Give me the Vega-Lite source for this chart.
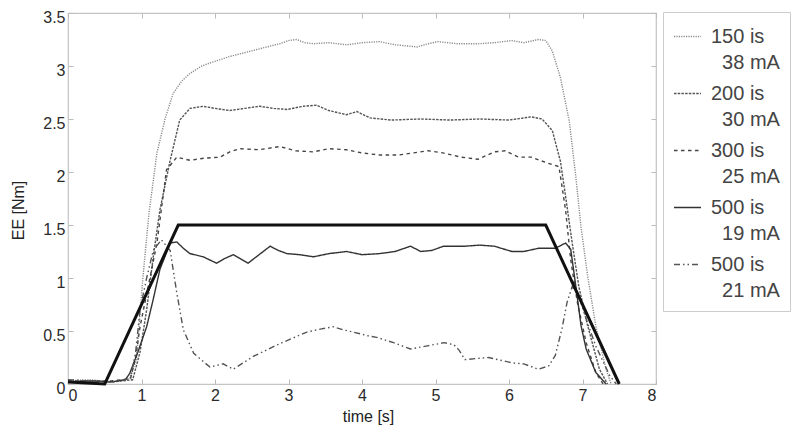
{
  "$schema": "https://vega.github.io/schema/vega-lite/v6.json",
  "width": 588,
  "height": 371,
  "autosize": "none",
  "padding": {"left": 68, "top": 13, "right": 144, "bottom": 52},
  "background": "white",
  "config": {
    "font": "Liberation Sans",
    "view": {"stroke": "#c4c4c4", "strokeWidth": 1.2},
    "axis": {
      "labelFont": "Liberation Sans", "labelFontSize": 16, "labelColor": "#2a2a2a",
      "titleFont": "Liberation Sans", "titleFontSize": 16, "titleFontWeight": "normal", "titleColor": "#222",
      "domain": false, "grid": false, "tickColor": "#bbb", "tickSize": -5
    },
    "legend": {
      "labelFont": "Liberation Sans"
    }
  },
  "datasets": {
    "ref": [
      {"t": 0, "y": 0.02}, {"t": 0.5, "y": 0}, {"t": 1.5, "y": 1.5}, {"t": 6.5, "y": 1.5}, {"t": 7.5, "y": 0}
    ],
    "curves": [
      {"s":"150 is 38 mA","t":0,"y":0.03},{"s":"150 is 38 mA","t":0.3,"y":0.04},{"s":"150 is 38 mA","t":0.6,"y":0.02},{"s":"150 is 38 mA","t":0.84,"y":0.05},{"s":"150 is 38 mA","t":0.93,"y":0.23},{"s":"150 is 38 mA","t":1.02,"y":1.01},{"s":"150 is 38 mA","t":1.1,"y":1.6},{"s":"150 is 38 mA","t":1.21,"y":2.18},{"s":"150 is 38 mA","t":1.32,"y":2.5},{"s":"150 is 38 mA","t":1.43,"y":2.74},{"s":"150 is 38 mA","t":1.55,"y":2.86},{"s":"150 is 38 mA","t":1.66,"y":2.93},{"s":"150 is 38 mA","t":1.82,"y":3.0},{"s":"150 is 38 mA","t":1.98,"y":3.04},{"s":"150 is 38 mA","t":2.2,"y":3.09},{"s":"150 is 38 mA","t":2.43,"y":3.13},{"s":"150 is 38 mA","t":2.65,"y":3.17},{"s":"150 is 38 mA","t":2.88,"y":3.21},{"s":"150 is 38 mA","t":3.0,"y":3.24},{"s":"150 is 38 mA","t":3.11,"y":3.25},{"s":"150 is 38 mA","t":3.22,"y":3.22},{"s":"150 is 38 mA","t":3.34,"y":3.21},{"s":"150 is 38 mA","t":3.55,"y":3.22},{"s":"150 is 38 mA","t":3.79,"y":3.2},{"s":"150 is 38 mA","t":4.0,"y":3.22},{"s":"150 is 38 mA","t":4.24,"y":3.23},{"s":"150 is 38 mA","t":4.45,"y":3.2},{"s":"150 is 38 mA","t":4.6,"y":3.19},{"s":"150 is 38 mA","t":4.75,"y":3.18},{"s":"150 is 38 mA","t":4.9,"y":3.21},{"s":"150 is 38 mA","t":5.03,"y":3.23},{"s":"150 is 38 mA","t":5.3,"y":3.21},{"s":"150 is 38 mA","t":5.58,"y":3.21},{"s":"150 is 38 mA","t":5.8,"y":3.22},{"s":"150 is 38 mA","t":6.04,"y":3.24},{"s":"150 is 38 mA","t":6.2,"y":3.22},{"s":"150 is 38 mA","t":6.4,"y":3.25},{"s":"150 is 38 mA","t":6.5,"y":3.24},{"s":"150 is 38 mA","t":6.59,"y":3.14},{"s":"150 is 38 mA","t":6.7,"y":2.89},{"s":"150 is 38 mA","t":6.82,"y":2.48},{"s":"150 is 38 mA","t":6.91,"y":1.95},{"s":"150 is 38 mA","t":6.98,"y":1.48},{"s":"150 is 38 mA","t":7.07,"y":1.02},{"s":"150 is 38 mA","t":7.18,"y":0.55},{"s":"150 is 38 mA","t":7.32,"y":0.14},{"s":"150 is 38 mA","t":7.39,"y":0},
      {"s":"200 is 30 mA","t":0,"y":0.02},{"s":"200 is 30 mA","t":0.3,"y":0.03},{"s":"200 is 30 mA","t":0.6,"y":0.02},{"s":"200 is 30 mA","t":0.88,"y":0.04},{"s":"200 is 30 mA","t":0.98,"y":0.3},{"s":"200 is 30 mA","t":1.07,"y":0.7},{"s":"200 is 30 mA","t":1.16,"y":1.2},{"s":"200 is 30 mA","t":1.25,"y":1.64},{"s":"200 is 30 mA","t":1.39,"y":2.11},{"s":"200 is 30 mA","t":1.52,"y":2.49},{"s":"200 is 30 mA","t":1.66,"y":2.6},{"s":"200 is 30 mA","t":1.84,"y":2.62},{"s":"200 is 30 mA","t":2.0,"y":2.6},{"s":"200 is 30 mA","t":2.2,"y":2.58},{"s":"200 is 30 mA","t":2.4,"y":2.6},{"s":"200 is 30 mA","t":2.61,"y":2.62},{"s":"200 is 30 mA","t":2.8,"y":2.6},{"s":"200 is 30 mA","t":2.98,"y":2.59},{"s":"200 is 30 mA","t":3.2,"y":2.62},{"s":"200 is 30 mA","t":3.38,"y":2.63},{"s":"200 is 30 mA","t":3.55,"y":2.58},{"s":"200 is 30 mA","t":3.79,"y":2.54},{"s":"200 is 30 mA","t":3.93,"y":2.57},{"s":"200 is 30 mA","t":4.11,"y":2.51},{"s":"200 is 30 mA","t":4.4,"y":2.49},{"s":"200 is 30 mA","t":4.8,"y":2.5},{"s":"200 is 30 mA","t":5.2,"y":2.49},{"s":"200 is 30 mA","t":5.6,"y":2.5},{"s":"200 is 30 mA","t":6.0,"y":2.49},{"s":"200 is 30 mA","t":6.3,"y":2.52},{"s":"200 is 30 mA","t":6.45,"y":2.5},{"s":"200 is 30 mA","t":6.59,"y":2.39},{"s":"200 is 30 mA","t":6.7,"y":2.1},{"s":"200 is 30 mA","t":6.77,"y":1.77},{"s":"200 is 30 mA","t":6.86,"y":1.33},{"s":"200 is 30 mA","t":6.95,"y":0.92},{"s":"200 is 30 mA","t":7.07,"y":0.55},{"s":"200 is 30 mA","t":7.23,"y":0.14},{"s":"200 is 30 mA","t":7.34,"y":0},
      {"s":"300 is 25 mA","t":0,"y":0.03},{"s":"300 is 25 mA","t":0.3,"y":0.02},{"s":"300 is 25 mA","t":0.6,"y":0.03},{"s":"300 is 25 mA","t":0.85,"y":0.05},{"s":"300 is 25 mA","t":0.92,"y":0.25},{"s":"300 is 25 mA","t":0.98,"y":0.54},{"s":"300 is 25 mA","t":1.1,"y":0.95},{"s":"300 is 25 mA","t":1.21,"y":1.33},{"s":"300 is 25 mA","t":1.34,"y":2.02},{"s":"300 is 25 mA","t":1.48,"y":2.14},{"s":"300 is 25 mA","t":1.66,"y":2.11},{"s":"300 is 25 mA","t":1.85,"y":2.13},{"s":"300 is 25 mA","t":2.07,"y":2.14},{"s":"300 is 25 mA","t":2.2,"y":2.19},{"s":"300 is 25 mA","t":2.34,"y":2.22},{"s":"300 is 25 mA","t":2.6,"y":2.21},{"s":"300 is 25 mA","t":2.88,"y":2.24},{"s":"300 is 25 mA","t":3.1,"y":2.2},{"s":"300 is 25 mA","t":3.34,"y":2.19},{"s":"300 is 25 mA","t":3.55,"y":2.22},{"s":"300 is 25 mA","t":3.79,"y":2.21},{"s":"300 is 25 mA","t":4.0,"y":2.18},{"s":"300 is 25 mA","t":4.24,"y":2.16},{"s":"300 is 25 mA","t":4.5,"y":2.16},{"s":"300 is 25 mA","t":4.9,"y":2.2},{"s":"300 is 25 mA","t":5.1,"y":2.18},{"s":"300 is 25 mA","t":5.35,"y":2.14},{"s":"300 is 25 mA","t":5.58,"y":2.12},{"s":"300 is 25 mA","t":5.8,"y":2.19},{"s":"300 is 25 mA","t":5.95,"y":2.2},{"s":"300 is 25 mA","t":6.13,"y":2.14},{"s":"300 is 25 mA","t":6.3,"y":2.14},{"s":"300 is 25 mA","t":6.5,"y":2.09},{"s":"300 is 25 mA","t":6.68,"y":2.05},{"s":"300 is 25 mA","t":6.77,"y":1.64},{"s":"300 is 25 mA","t":6.84,"y":1.17},{"s":"300 is 25 mA","t":6.93,"y":0.77},{"s":"300 is 25 mA","t":7.05,"y":0.39},{"s":"300 is 25 mA","t":7.18,"y":0.11},{"s":"300 is 25 mA","t":7.28,"y":0},
      {"s":"500 is 19 mA","t":0,"y":0.02},{"s":"500 is 19 mA","t":0.3,"y":0.03},{"s":"500 is 19 mA","t":0.6,"y":0.02},{"s":"500 is 19 mA","t":0.78,"y":0.04},{"s":"500 is 19 mA","t":0.84,"y":0.1},{"s":"500 is 19 mA","t":0.95,"y":0.3},{"s":"500 is 19 mA","t":1.07,"y":0.54},{"s":"500 is 19 mA","t":1.16,"y":0.8},{"s":"500 is 19 mA","t":1.25,"y":1.08},{"s":"500 is 19 mA","t":1.39,"y":1.33},{"s":"500 is 19 mA","t":1.48,"y":1.34},{"s":"500 is 19 mA","t":1.57,"y":1.28},{"s":"500 is 19 mA","t":1.66,"y":1.23},{"s":"500 is 19 mA","t":1.84,"y":1.2},{"s":"500 is 19 mA","t":2.02,"y":1.14},{"s":"500 is 19 mA","t":2.12,"y":1.18},{"s":"500 is 19 mA","t":2.25,"y":1.22},{"s":"500 is 19 mA","t":2.35,"y":1.18},{"s":"500 is 19 mA","t":2.45,"y":1.14},{"s":"500 is 19 mA","t":2.6,"y":1.22},{"s":"500 is 19 mA","t":2.75,"y":1.3},{"s":"500 is 19 mA","t":2.86,"y":1.26},{"s":"500 is 19 mA","t":2.98,"y":1.23},{"s":"500 is 19 mA","t":3.15,"y":1.22},{"s":"500 is 19 mA","t":3.34,"y":1.2},{"s":"500 is 19 mA","t":3.55,"y":1.23},{"s":"500 is 19 mA","t":3.79,"y":1.25},{"s":"500 is 19 mA","t":4.0,"y":1.22},{"s":"500 is 19 mA","t":4.24,"y":1.23},{"s":"500 is 19 mA","t":4.45,"y":1.25},{"s":"500 is 19 mA","t":4.66,"y":1.3},{"s":"500 is 19 mA","t":4.8,"y":1.25},{"s":"500 is 19 mA","t":4.95,"y":1.26},{"s":"500 is 19 mA","t":5.11,"y":1.3},{"s":"500 is 19 mA","t":5.4,"y":1.3},{"s":"500 is 19 mA","t":5.6,"y":1.31},{"s":"500 is 19 mA","t":5.8,"y":1.3},{"s":"500 is 19 mA","t":6.04,"y":1.25},{"s":"500 is 19 mA","t":6.2,"y":1.25},{"s":"500 is 19 mA","t":6.4,"y":1.28},{"s":"500 is 19 mA","t":6.63,"y":1.28},{"s":"500 is 19 mA","t":6.77,"y":1.33},{"s":"500 is 19 mA","t":6.84,"y":1.27},{"s":"500 is 19 mA","t":6.91,"y":0.92},{"s":"500 is 19 mA","t":6.98,"y":0.55},{"s":"500 is 19 mA","t":7.05,"y":0.33},{"s":"500 is 19 mA","t":7.18,"y":0.11},{"s":"500 is 19 mA","t":7.32,"y":0},
      {"s":"500 is 21 mA","t":0,"y":0.04},{"s":"500 is 21 mA","t":0.3,"y":0.03},{"s":"500 is 21 mA","t":0.6,"y":0.02},{"s":"500 is 21 mA","t":0.85,"y":0.05},{"s":"500 is 21 mA","t":0.92,"y":0.3},{"s":"500 is 21 mA","t":0.98,"y":0.7},{"s":"500 is 21 mA","t":1.07,"y":1.0},{"s":"500 is 21 mA","t":1.16,"y":1.26},{"s":"500 is 21 mA","t":1.27,"y":1.36},{"s":"500 is 21 mA","t":1.39,"y":1.26},{"s":"500 is 21 mA","t":1.48,"y":0.86},{"s":"500 is 21 mA","t":1.57,"y":0.51},{"s":"500 is 21 mA","t":1.71,"y":0.29},{"s":"500 is 21 mA","t":1.93,"y":0.16},{"s":"500 is 21 mA","t":2.11,"y":0.19},{"s":"500 is 21 mA","t":2.25,"y":0.14},{"s":"500 is 21 mA","t":2.52,"y":0.26},{"s":"500 is 21 mA","t":2.88,"y":0.38},{"s":"500 is 21 mA","t":3.25,"y":0.49},{"s":"500 is 21 mA","t":3.45,"y":0.52},{"s":"500 is 21 mA","t":3.61,"y":0.54},{"s":"500 is 21 mA","t":3.75,"y":0.51},{"s":"500 is 21 mA","t":3.88,"y":0.49},{"s":"500 is 21 mA","t":4.11,"y":0.45},{"s":"500 is 21 mA","t":4.2,"y":0.44},{"s":"500 is 21 mA","t":4.43,"y":0.39},{"s":"500 is 21 mA","t":4.66,"y":0.33},{"s":"500 is 21 mA","t":4.89,"y":0.36},{"s":"500 is 21 mA","t":5.12,"y":0.39},{"s":"500 is 21 mA","t":5.25,"y":0.37},{"s":"500 is 21 mA","t":5.32,"y":0.32},{"s":"500 is 21 mA","t":5.4,"y":0.23},{"s":"500 is 21 mA","t":5.55,"y":0.24},{"s":"500 is 21 mA","t":5.72,"y":0.25},{"s":"500 is 21 mA","t":6.04,"y":0.2},{"s":"500 is 21 mA","t":6.2,"y":0.19},{"s":"500 is 21 mA","t":6.4,"y":0.14},{"s":"500 is 21 mA","t":6.54,"y":0.17},{"s":"500 is 21 mA","t":6.63,"y":0.27},{"s":"500 is 21 mA","t":6.72,"y":0.52},{"s":"500 is 21 mA","t":6.79,"y":0.77},{"s":"500 is 21 mA","t":6.86,"y":0.92},{"s":"500 is 21 mA","t":6.95,"y":0.83},{"s":"500 is 21 mA","t":7.05,"y":0.61},{"s":"500 is 21 mA","t":7.18,"y":0.36},{"s":"500 is 21 mA","t":7.37,"y":0.08},{"s":"500 is 21 mA","t":7.46,"y":0}
    ]
  },
  "resolve": {"axis": {"x": "independent", "y": "independent"}},
  "layer": [
    {
      "data": {"name": "curves"},
      "mark": {"type": "line", "strokeWidth": 1.4},
      "encoding": {
        "x": {"field": "t", "type": "quantitative", "scale": {"domain": [0, 8], "nice": false},
              "axis": {"orient": "bottom", "values": [0,1,2,3,4,5,6,7,8], "format": "d", "title": "time [s]", "labelPadding": 8,
                       "titleX": 300, "titleY": 32, "titleBaseline": "middle"}},
        "y": {"field": "y", "type": "quantitative", "scale": {"domain": [0, 3.5], "nice": false},
              "axis": {"orient": "left", "values": [0,0.5,1,1.5,2,2.5,3,3.5], "format": "~g", "title": "EE [Nm]", "labelPadding": 8, "labelOffset": 4,
                       "titleX": -50, "titleY": 197, "titleBaseline": "middle"}},
        "color": {"field": "s", "type": "nominal",
                  "scale": {"domain": ["150 is 38 mA","200 is 30 mA","300 is 25 mA","500 is 19 mA","500 is 21 mA"],
                            "range": ["#8a8a8a","#555555","#444444","#333333","#555555"]},
                  "legend": {"orient": "none", "legendX": 595, "legendY": -1, "title": null,
                             "strokeColor": "#cccccc", "fillColor": "white", "padding": 10,
                             "symbolType": "stroke", "symbolSize": 729, "symbolStrokeWidth": 1.5,
                             "labelFontSize": 20, "labelColor": "#444", "labelOffset": 9, "labelLimit": 300, "rowPadding": 6,
                             "labelExpr": "[slice(datum.label,0,6), '\u200b\u00a0\u00a0' + slice(datum.label,7)]",
                             "encode": {"labels": {"update": {"lineHeight": {"value": 26}}}}}},
        "strokeDash": {"field": "s", "type": "nominal",
                       "scale": {"domain": ["150 is 38 mA","200 is 30 mA","300 is 25 mA","500 is 19 mA","500 is 21 mA"],
                                 "range": [[1.2,1.2],[2.5,1.2],[3.5,3.5],[1,0],[6,3,1.5,3,1.5,3]]},
                       "legend": {"orient": "none", "legendX": 595, "legendY": -1, "title": null,
                                  "strokeColor": "#cccccc", "fillColor": "white", "padding": 10,
                                  "symbolType": "stroke", "symbolSize": 729, "symbolStrokeWidth": 1.5,
                                  "labelFontSize": 20, "labelColor": "#444", "labelOffset": 9, "labelLimit": 300, "rowPadding": 6,
                                  "labelExpr": "[slice(datum.label,0,6), '\u200b\u00a0\u00a0' + slice(datum.label,7)]",
                                  "encode": {"labels": {"update": {"lineHeight": {"value": 26}}}}}}
      }
    },
    {
      "data": {"name": "ref"},
      "mark": {"type": "line", "color": "#111111", "strokeWidth": 3},
      "encoding": {
        "x": {"field": "t", "type": "quantitative", "scale": {"domain": [0, 8], "nice": false},
              "axis": {"orient": "top", "values": [0,1,2,3,4,5,6,7,8], "labels": false, "title": null}},
        "y": {"field": "y", "type": "quantitative", "scale": {"domain": [0, 3.5], "nice": false},
              "axis": {"orient": "right", "values": [0,0.5,1,1.5,2,2.5,3,3.5], "labels": false, "title": null}}
      }
    }
  ]
}
